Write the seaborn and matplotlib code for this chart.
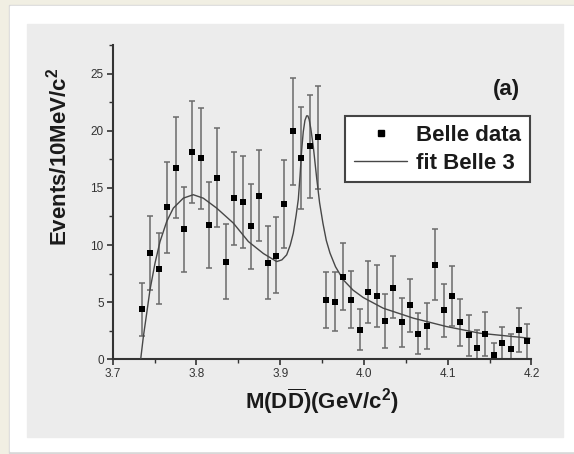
import matplotlib
matplotlib.use("Agg")
import numpy as np
import matplotlib.pyplot as plt
import seaborn as sns
from matplotlib.lines import Line2D
from matplotlib.patches import Rectangle
from matplotlib.ticker import MultipleLocator

sns.set_theme(style="ticks")
plt.rcParams["font.family"] = ["Liberation Sans", "DejaVu Sans"]
plt.rcParams["mathtext.fontset"] = "custom"
plt.rcParams["mathtext.rm"] = "Liberation Sans"
plt.rcParams["mathtext.bf"] = "Liberation Sans:bold"

# Belle data, 10 MeV bins
mass = [3.735, 3.745, 3.755, 3.765, 3.775, 3.785, 3.795, 3.805, 3.815, 3.825,
        3.835, 3.845, 3.855, 3.865, 3.875, 3.885, 3.895, 3.905, 3.915, 3.925,
        3.935, 3.945, 3.955, 3.965, 3.975, 3.985, 3.995, 4.005, 4.015, 4.025,
        4.035, 4.045, 4.055, 4.065, 4.075, 4.085, 4.095, 4.105, 4.115, 4.125,
        4.135, 4.145, 4.155, 4.165, 4.175, 4.185, 4.195]
events = [4.38, 9.26, 7.89, 13.29, 16.76, 11.36, 18.1, 17.6, 11.71, 15.9,
          8.53, 14.08, 13.78, 11.62, 14.31, 8.41, 9.08, 13.61, 19.95, 17.58,
          18.63, 19.45, 5.2, 5.02, 7.24, 5.23, 2.57, 5.87, 5.55, 3.36,
          6.25, 3.24, 4.73, 2.25, 2.92, 8.24, 4.29, 5.55, 3.24, 2.1,
          1.02, 2.19, 0.41, 1.4, 0.9, 2.57, 1.58]
err_top = [6.66, 12.53, 11.04, 17.26, 21.2, 15.1, 22.6, 22.0, 15.5, 20.2,
           11.83, 18.17, 17.76, 15.36, 18.28, 11.62, 12.44, 17.41, 24.65, 22.05,
           23.13, 23.95, 7.65, 7.62, 10.16, 7.74, 4.41, 8.64, 8.29, 5.72,
           9.0, 5.34, 7.04, 4.09, 4.91, 11.36, 6.57, 8.18, 5.29, 3.88,
           2.57, 4.12, 1.4, 2.86, 2.19, 4.5, 3.1]
err_bottom = [2.04, 6.02, 4.82, 9.29, 12.32, 7.68, 13.67, 13.17, 7.97, 11.6,
              5.29, 9.99, 9.78, 7.89, 10.34, 5.29, 5.78, 9.73, 15.27, 13.14,
              14.1, 14.9, 2.72, 2.48, 4.32, 2.77, 0.82, 3.21, 2.86, 1.02,
              3.59, 1.11, 2.42, 0.47, 0.88, 5.2, 1.93, 2.92, 1.17, 0.32,
              0.0, 0.32, 0.0, 0.0, 0.0, 0.67, 0.0]

# fit curve
fit_x = [3.7334, 3.7366, 3.7406, 3.7445, 3.7505, 3.7565, 3.7645, 3.7724, 3.7843,
         3.7962, 3.8081, 3.8241, 3.8440, 3.8620, 3.8800, 3.8958, 3.9020, 3.9077,
         3.9120, 3.9156, 3.9190, 3.9216, 3.9236, 3.9256, 3.9275, 3.9295, 3.9315,
         3.9330, 3.9345, 3.9365, 3.9395, 3.9436, 3.9470, 3.9510, 3.9550, 3.9594,
         3.9660, 3.9753, 3.9870, 3.9992, 4.0230, 4.0589, 4.0988, 4.1385, 4.1982]
fit_y = [0.0, 1.98, 4.03, 6.07, 8.41, 10.3, 12.06, 13.23, 14.1,
         14.4, 14.1, 13.23, 11.92, 10.3, 9.25, 8.55, 8.7, 9.14,
         10.0, 11.04, 12.6, 14.0, 16.0, 18.3, 19.9, 20.9, 21.3,
         21.3, 21.0, 20.2, 18.6, 15.8, 13.7, 11.9, 10.4, 9.3,
         8.1, 6.95, 6.05, 5.4, 4.47, 3.6, 2.86, 2.28, 1.84]

W, H = 574, 454
fig = plt.figure(figsize=(W / 100, H / 100), dpi=100)
fig.patch.set_facecolor("#f1efe3")


def px_rect(x0, y0, x1, y1, color):
    fig.patches.append(Rectangle((x0 / W, 1 - y1 / H), (x1 - x0) / W, (y1 - y0) / H,
                                 transform=fig.transFigure, color=color, zorder=-10))


# frame around the picture
px_rect(9, 5, 574, 453, "#d8d8d8")
px_rect(10, 6, 574, 451, "white")
px_rect(27, 24, 563, 437, "#ececec")

ax = fig.add_axes([112.7 / W, 1 - 359.3 / H, 418.8 / W, 314.3 / H])
ax.set_facecolor("#ececec")

yerr = [np.array(events) - np.array(err_bottom), np.array(err_top) - np.array(events)]
ax.errorbar(mass, events, yerr=yerr, fmt="none", ecolor="#6a6a6a",
            elinewidth=1.1, capsize=2.4, capthick=1.1, zorder=2)
sns.lineplot(x=fit_x, y=fit_y, color="#474747", linewidth=1.0, sort=False,
             estimator=None, ax=ax, zorder=3)
sns.scatterplot(x=mass, y=events, marker="s", s=24, color="black",
                edgecolor="black", linewidth=0, ax=ax, zorder=4)

ax.set_xlim(3.7, 4.2)
ax.set_ylim(0, 27.5)
ax.xaxis.set_major_locator(MultipleLocator(0.1))
ax.xaxis.set_minor_locator(MultipleLocator(0.05))
ax.yaxis.set_major_locator(MultipleLocator(5))
ax.yaxis.set_minor_locator(MultipleLocator(2.5))
ax.tick_params(which="major", direction="out", length=4.5, width=1.2,
               color="#333333", labelsize=8.5, labelcolor="#333333", pad=2)
ax.tick_params(which="minor", direction="out", length=3, width=1.0, color="#333333")
sns.despine(ax=ax)
for side in ["left", "bottom"]:
    ax.spines[side].set_linewidth(1.5)
    ax.spines[side].set_color("#333333")

ax.set_xlabel(r"$\mathbf{M(D\overline{D})(GeV/c^2)}$",
              fontsize=16, fontweight="bold", color="#1a1a1a")
ax.xaxis.set_label_coords(0.5, -0.085)
ax.set_ylabel(r"Events/10MeV/c$^\mathbf{2}$",
              fontsize=16, fontweight="bold", color="#1a1a1a")
ax.yaxis.set_label_coords(-0.098, 0.645)

ax.text(0.939, 0.857, "(a)", transform=ax.transAxes, fontsize=16,
        fontweight="bold", ha="center", va="center", color="#1a1a1a")

handles = [
    Line2D([], [], marker="s", linestyle="none", color="black", markersize=5),
    Line2D([], [], color="#474747", linewidth=1.0),
]
leg = ax.legend(handles, ["Belle data", "fit Belle 3"], loc="upper left",
                bbox_to_anchor=(0.5547, 0.774), borderaxespad=0, fancybox=False,
                framealpha=1, facecolor="white", edgecolor="#444444",
                borderpad=0.4, handlelength=2.4, handletextpad=0.4,
                labelspacing=0.3, prop={"weight": "bold", "size": 16})
leg.get_frame().set_linewidth(1.5)
for t in leg.get_texts():
    t.set_color("#1a1a1a")

fig.savefig("out.png", dpi=100)
